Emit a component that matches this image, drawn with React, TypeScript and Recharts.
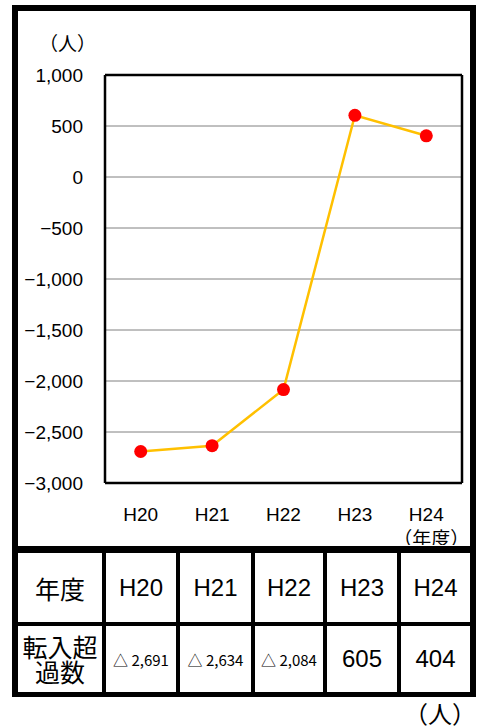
import React from 'react';
import { LineChart, Line, XAxis, YAxis, CartesianGrid } from 'recharts';

// 年度ごとの転入超過数（人）
const years = ['H20', 'H21', 'H22', 'H23', 'H24'];
const netMigration = [-2691, -2634, -2084, 605, 404];
const yTicks = [1000, 500, 0, -500, -1000, -1500, -2000, -2500, -3000];
const boundaryTicks = [1, 2, 3, 4];
const unitLabel = '（人）';
const yearUnitLabel = '（年度）';
const rowHeaders = ['年度', '転入超\n過数'];

const chartData = years.map((year, i) => ({ year, value: netMigration[i] }));

const LATIN = '"Liberation Sans", Arial, "Noto Sans CJK JP", sans-serif';
const CJK = '"Noto Sans CJK JP", "Liberation Sans", sans-serif';

const formatTick = (v: number) =>
  v < 0 ? '\u2212' + Math.abs(v).toLocaleString('en-US') : v.toLocaleString('en-US');

const formatCell = (v: number) =>
  v < 0 ? '△ ' + Math.abs(v).toLocaleString('en-US') : v.toLocaleString('en-US');

function YearTick(props: any) {
  const { x, y, payload } = props;
  const isLast = payload.value === years[years.length - 1];
  return (
    <g>
      <text x={x} y={y} dy={25} textAnchor="middle" dominantBaseline="middle"
        fill="#000" fontSize={19} fontFamily={LATIN}>
        {payload.value}
      </text>
      {isLast && (
        <text x={x} y={y} dx={5} dy={50} textAnchor="middle" dominantBaseline="middle"
          fill="#000" fontSize={19} fontFamily={CJK}>
          {yearUnitLabel}
        </text>
      )}
    </g>
  );
}

const colWidths = [84, 70, 71, 68, 70, 69];
const frame = { stroke: '#000', strokeWidth: 2.5 };

export default function App() {
  const cell: React.CSSProperties = {
    background: '#fff',
    display: 'flex',
    alignItems: 'center',
    justifyContent: 'center',
    color: '#000',
  };

  return (
    <div style={{ position: 'absolute', left: 0, top: 0, width: 482, height: 727, background: '#fff' }}>
      {/* outer frame */}
      <div style={{
        position: 'absolute', left: 12, top: 5, width: 464, height: 692,
        border: '6px solid #000', borderBottomWidth: 5, boxSizing: 'border-box',
      }} />
      <div style={{ position: 'absolute', left: 12, top: 546, width: 464, height: 7, background: '#000' }} />

      <div style={{
        position: 'absolute', left: 39, top: 33, fontFamily: CJK, fontSize: 19,
        lineHeight: '20px', color: '#000', whiteSpace: 'nowrap',
      }}>{unitLabel}</div>

      <div style={{ position: 'absolute', left: 0, top: 0 }}>
        <LineChart width={482} height={545} data={chartData}
          margin={{ top: 74, right: 19, bottom: 13, left: 15 }}>
          <CartesianGrid xAxisId="main" yAxisId="main" vertical={false}
            stroke="#808080" strokeWidth={1} />
          <XAxis xAxisId="bounds" type="number" domain={[0, 5]} allowDataOverflow
            ticks={boundaryTicks} tick={false} axisLine={frame} mirror tickSize={5} height={1}
            tickLine={{ stroke: '#222', strokeWidth: 1.2 }} />
          <XAxis xAxisId="main" dataKey="year" scale="band" height={49} tickLine={false}
            axisLine={false} tick={<YearTick />} interval={0} />
          <XAxis xAxisId="top" orientation="top" dataKey="year" scale="band" height={1}
            tick={false} tickLine={false} axisLine={frame} />
          <YAxis yAxisId="main" width={90} domain={[-3000, 1000]} ticks={yTicks}
            tickFormatter={formatTick} tickLine={false} tickSize={0} tickMargin={22}
            axisLine={frame}
            tick={{ fill: '#000', fontSize: 19, fontFamily: LATIN }} interval={0} />
          <YAxis yAxisId="right" orientation="right" width={1} domain={[-3000, 1000]}
            allowDataOverflow tick={false} tickLine={false} axisLine={frame} />
          {/* invisible series so the frame axes get drawn */}
          <Line xAxisId="top" yAxisId="right" dataKey="value" stroke="none" dot={false}
            activeDot={false} isAnimationActive={false} legendType="none" />
          <Line xAxisId="bounds" yAxisId="right" dataKey="value" stroke="none" dot={false}
            activeDot={false} isAnimationActive={false} legendType="none" />
          <Line xAxisId="main" yAxisId="main" dataKey="value" stroke="#FFC000"
            strokeWidth={2.5} isAnimationActive={false}
            dot={{ r: 6.5, fill: '#FF0000', stroke: 'none' }} activeDot={false} />
        </LineChart>
      </div>

      {/* data table */}
      <div style={{
        position: 'absolute', left: 18, top: 553, width: 452, height: 139,
        background: '#000', display: 'grid',
        gridTemplateColumns: colWidths.map((w) => w + 'px').join(' '),
        gridTemplateRows: '69px 66px', gap: 4,
      }}>
        <div style={{ ...cell, fontFamily: CJK, fontSize: 25 }}>{rowHeaders[0]}</div>
        {years.map((y) => (
          <div key={y} style={{ ...cell, fontFamily: LATIN, fontSize: 24 }}>{y}</div>
        ))}
        <div style={{
          ...cell, fontFamily: CJK, fontSize: 25, lineHeight: '25px',
          whiteSpace: 'pre-line', textAlign: 'center',
        }}>{rowHeaders[1]}</div>
        {netMigration.map((v, i) => (
          <div key={years[i]} style={{
            ...cell, fontFamily: v < 0 ? CJK : LATIN, fontSize: v < 0 ? 15 : 24,
            whiteSpace: 'nowrap',
          }}>{formatCell(v)}</div>
        ))}
      </div>

      <div style={{
        position: 'absolute', left: 404, top: 700, fontFamily: CJK, fontSize: 24,
        lineHeight: '25px', color: '#000', whiteSpace: 'nowrap',
      }}>{unitLabel}</div>
    </div>
  );
}
